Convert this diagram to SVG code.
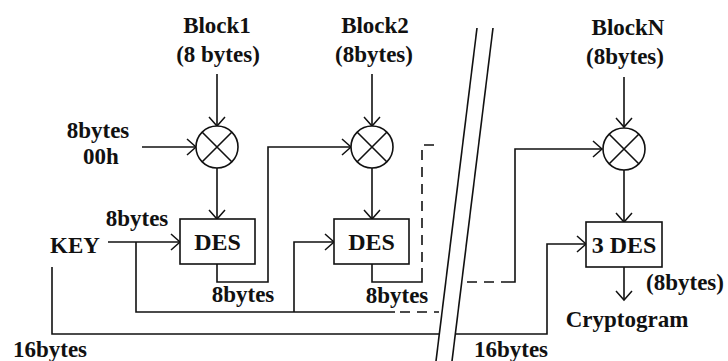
<svg xmlns="http://www.w3.org/2000/svg" width="728" height="361" viewBox="0 0 728 361">
<style>
.ln{fill:none;stroke:#111;stroke-width:1.6}
.ds{fill:none;stroke:#111;stroke-width:1.6;stroke-dasharray:10 7}
.bx{fill:#fff;stroke:#111;stroke-width:1.6}
text{font-family:"Liberation Serif","Times New Roman",serif;font-weight:bold;fill:#111;font-size:23px;text-anchor:middle}
.big{font-size:24px}
</style>
<defs>
<marker id="ar" viewBox="-10 -10 12 20" refX="0" refY="0" markerWidth="12" markerHeight="20" orient="auto" markerUnits="userSpaceOnUse">
<path d="M-9,-8 L0,0 L-9,8" fill="none" stroke="#111" stroke-width="1.5"/>
</marker>
</defs>
<rect width="728" height="361" fill="#fff"/>

<g id="labels">
<text x="217" y="33">Block1</text>
<text x="218" y="62">(8 bytes)</text>
<text x="375" y="33">Block2</text>
<text x="374" y="62">(8bytes)</text>
<text x="628" y="35">BlockN</text>
<text x="625" y="64">(8bytes)</text>
<text x="98" y="138">8bytes</text>
<text x="101" y="164">00h</text>
<text x="137" y="226">8bytes</text>
<text x="75" y="253">KEY</text>
<text x="243" y="302">8bytes</text>
<text x="397" y="303">8bytes</text>
<text x="50" y="357">16bytes</text>
<text x="511" y="357">16bytes</text>
<text x="685" y="290">(8bytes)</text>
<text x="627" y="327">Cryptogram</text>
</g>

<g id="connectors">
<path class="ln" d="M217,74 V126" marker-end="url(#ar)"/>
<path class="ln" d="M142,147 H196" marker-end="url(#ar)"/>
<path class="ln" d="M217,168 V219" marker-end="url(#ar)"/>
<path class="ln" d="M108,242 H180" marker-end="url(#ar)"/>
<path class="ln" d="M217,264 V282 H268 V147 H351" marker-end="url(#ar)"/>
<path class="ln" d="M136,242 V312 H395"/>
<path class="ds" d="M400,312 H439"/>
<path class="ln" d="M294,312 V242 H334" marker-end="url(#ar)"/>
<path class="ln" d="M372,74 V126" marker-end="url(#ar)"/>
<path class="ln" d="M372,168 V219" marker-end="url(#ar)"/>
<path class="ln" d="M372,264 V282 H422 V268"/>
<path class="ds" d="M422,262 V145 H441"/>
<path class="ds" d="M467,282 H508"/>
<path class="ln" d="M508,282 H515 V149 H602" marker-end="url(#ar)"/>
<path class="ln" d="M624,77 V127" marker-end="url(#ar)"/>
<path class="ln" d="M624,170 V222" marker-end="url(#ar)"/>
<path class="ln" d="M624,267 V300" marker-end="url(#ar)"/>
<path class="ln" d="M52,267 V334 H439"/>
<path class="ln" d="M455,334 H547 V244 H586" marker-end="url(#ar)"/>
<path class="ln" d="M477,28 L436,361"/>
<path class="ln" d="M493,28 L452,361"/>
</g>

<g id="xor1">
<circle class="bx" cx="217" cy="147" r="21"/>
<path class="ln" d="M202,132 L232,162 M232,132 L202,162"/>
</g>
<g id="xor2">
<circle class="bx" cx="372" cy="147" r="21"/>
<path class="ln" d="M357,132 L387,162 M387,132 L357,162"/>
</g>
<g id="xorN">
<circle class="bx" cx="624" cy="149" r="21"/>
<path class="ln" d="M609,134 L639,164 M639,134 L609,164"/>
</g>
<g id="des1">
<rect class="bx" x="180" y="219" width="75" height="45"/>
<text class="big" x="217.5" y="250">DES</text>
</g>
<g id="des2">
<rect class="bx" x="334" y="219" width="75" height="45"/>
<text class="big" x="371.5" y="250">DES</text>
</g>
<g id="des3">
<rect class="bx" x="586" y="222" width="76" height="45"/>
<text class="big" x="624" y="253">3 DES</text>
</g>
</svg>
